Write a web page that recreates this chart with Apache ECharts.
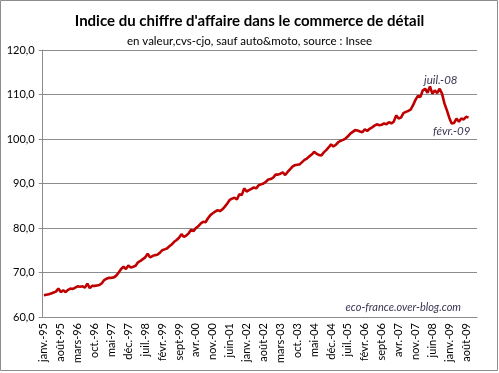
<!DOCTYPE html>
<html><head><meta charset="utf-8">
<script src="https://cdn.jsdelivr.net/npm/echarts@6/dist/echarts.min.js"></script>
<style>html,body{margin:0;padding:0;background:#fff}#c{width:499px;height:373px}</style>
</head><body><div id="c"></div>
<script>
const monthNames = ['janv.','févr.','mars','avr.','mai','juin','juil.','août','sept','oct.','nov.','déc.'];
const years = ['95','96','97','98','99','00','01','02','03','04','05','06','07','08','09'];
const titleText = "Indice du chiffre d'affaire dans le commerce de détail";
const subtitleText = 'en valeur,cvs-cjo, sauf auto&moto, source : Insee';
const yTicks = [60, 70, 80, 90, 100, 110, 120];
// monthly values janv.-95 .. sept-09
const values1995_1997 = [64.9,65.0,65.1,65.3,65.5,65.7,66.4,65.6,66.0,65.6,66.1,66.4,
  66.3,66.6,66.9,66.8,66.9,66.6,67.5,66.5,67.0,67.0,67.1,67.2,
  67.6,68.3,68.6,68.8,68.8,68.9,69.3,70.0,70.8,71.3,70.8,71.6];
const values1998_2000 = [71.1,71.3,71.5,72.3,72.6,73.0,73.4,74.2,73.4,73.7,73.9,74.0,
  74.4,75.0,75.2,75.4,75.9,76.3,76.9,77.3,77.8,78.6,78.0,78.3,
  78.8,79.6,79.3,80.0,80.4,81.0,81.4,81.3,82.2,82.9,83.3,83.7];
const values2001_2003 = [84.0,83.8,84.2,84.8,85.5,86.3,86.6,86.8,86.4,87.6,87.4,88.9,
  88.2,88.5,88.8,89.1,88.9,89.6,89.8,90.0,90.4,90.9,91.0,91.3,
  92.0,92.0,92.2,92.5,91.9,92.6,93.2,93.8,94.1,94.2,94.3,94.8];
const values2004_2006 = [95.3,95.6,96.1,96.5,97.1,96.7,96.4,96.3,97.0,97.5,98.1,98.8,
  98.3,98.7,99.3,99.6,99.8,100.1,100.6,101.2,101.6,102.0,101.9,101.7,
  101.5,102.2,101.8,102.3,102.6,103.0,103.3,103.1,103.2,103.5,103.3,103.8];
const values2007_2009 = [103.5,103.9,105.3,104.6,104.8,105.8,106.1,106.3,106.6,107.6,108.8,109.7,
  109.4,110.9,111.3,110.4,111.8,110.2,110.9,110.3,111.3,110.2,108.0,106.5,
  104.8,103.5,103.6,104.6,103.9,104.6,104.4,105.0,104.8];
const annotations = [{month: 'juil.-08', text: 'juil.-08', pos: 'top'}, {month: 'févr.-09', text: 'févr.-09', pos: 'bottom'}];
const watermark = 'eco-france.over-blog.com';

const categories = [];
years.forEach(y => monthNames.forEach(m => categories.push(m + '-' + y)));
const values = [].concat(values1995_1997, values1998_2000, values2001_2003, values2004_2006, values2007_2009);

const seriesData = values.map((v, i) => {
  const a = annotations.find(x => x.month === categories[i]);
  if (!a) return v;
  return {value: v, label: {show: true, formatter: a.text, position: a.pos,
    distance: a.pos === 'top' ? 4 : 2, offset: a.pos === 'top' ? [6, 0] : [0, 0],
    fontStyle: 'italic', fontSize: 11.5, color: '#3b3553', fontFamily: 'Lato'}};
});

const chart = echarts.init(document.getElementById('c'), null, {renderer: 'canvas'});
chart.setOption({
  animation: false,
  backgroundColor: '#fff',
  title: [
    {text: titleText, left: 'center', top: 9, textStyle: {fontSize: 15, fontWeight: 'bold', color: '#000', fontFamily: 'Lato'}},
    {text: subtitleText, left: 'center', top: 30, textStyle: {fontSize: 11.5, fontWeight: 'normal', color: '#000', fontFamily: 'Lato'}}
  ],
  grid: {left: 42.7, right: 22, top: 50, bottom: 56, containLabel: false},
  xAxis: {
    type: 'category', data: categories, boundaryGap: true,
    axisLine: {lineStyle: {color: '#8c8c8c', width: 1}},
    axisTick: {interval: 6, length: 4, lineStyle: {color: '#8c8c8c'}},
    axisLabel: {interval: 6, rotate: 90, fontSize: 11, color: '#000', fontFamily: 'Lato', margin: 6},
    splitLine: {show: false}
  },
  yAxis: {
    type: 'value', min: yTicks[0], max: yTicks[yTicks.length - 1], interval: 10,
    axisLine: {show: true, lineStyle: {color: '#8c8c8c', width: 1}},
    axisTick: {show: true, length: 4, lineStyle: {color: '#8c8c8c'}},
    axisLabel: {fontSize: 11, color: '#000', fontFamily: 'Lato', margin: 8,
      formatter: v => v.toFixed(1).replace('.', ',')},
    splitLine: {lineStyle: {color: '#8c8c8c', width: 1}}
  },
  series: [{
    type: 'line', data: seriesData, symbol: 'circle', symbolSize: 0.01, showSymbol: true, smooth: false,
    label: {show: false},
    lineStyle: {color: '#c00000', width: 2.6}, itemStyle: {color: '#c00000'}
  }],
  graphic: [
    {type: 'rect', shape: {x: 0.5, y: 0.5, width: 497, height: 370}, style: {fill: 'none', stroke: '#8c8c8c', lineWidth: 1}, silent: true},
    {type: 'text', right: 38, top: 302, style: {text: watermark, font: 'italic 11px Lato', fill: '#3b3553'}}
  ]
});
</script></body></html>
